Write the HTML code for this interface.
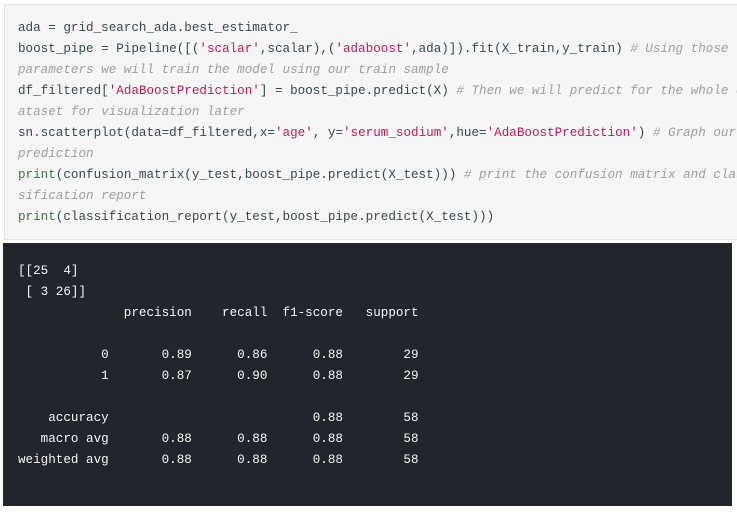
<!DOCTYPE html>
<html><head><style>
html,body{margin:0;padding:0;background:#fff;width:737px;height:519px;overflow:hidden}
.code{position:absolute;left:4px;top:4px;width:740px;height:236px;background:#f5f5f5;border:1px solid #e4e4e4;box-sizing:border-box}
.out{position:absolute;left:3px;top:243px;width:729px;height:263px;background:#22252b}
pre{margin:0;font-family:"Liberation Mono",monospace;font-size:12.6px;line-height:21px;white-space:pre;position:absolute}
.code pre{left:13px;top:13px;color:#37474f}
.out pre{left:15px;top:18px;color:#f5f5f5}
.s{color:#c2185b}.c{color:#9e9e9e;font-style:italic}.p{color:#2e7d32}
</style></head><body>
<div class="code"><pre>ada = grid_search_ada.best_estimator_
boost_pipe = Pipeline([(<span class="s">'scalar'</span>,scalar),(<span class="s">'adaboost'</span>,ada)]).fit(X_train,y_train) <span class="c"># Using those</span>
<span class="c">parameters we will train the model using our train sample</span>
df_filtered[<span class="s">'AdaBoostPrediction'</span>] = boost_pipe.predict(X) <span class="c"># Then we will predict for the whole d</span>
<span class="c">ataset for visualization later</span>
sn.scatterplot(data=df_filtered,x=<span class="s">'age'</span>, y=<span class="s">'serum_sodium'</span>,hue=<span class="s">'AdaBoostPrediction'</span>) <span class="c"># Graph our</span>
<span class="c">prediction</span>
<span class="p">print</span>(confusion_matrix(y_test,boost_pipe.predict(X_test))) <span class="c"># print the confusion matrix and clas</span>
<span class="c">sification report</span>
<span class="p">print</span>(classification_report(y_test,boost_pipe.predict(X_test)))</pre></div>
<div class="out"><pre>[[25  4]
 [ 3 26]]
              precision    recall  f1-score   support

           0       0.89      0.86      0.88        29
           1       0.87      0.90      0.88        29

    accuracy                           0.88        58
   macro avg       0.88      0.88      0.88        58
weighted avg       0.88      0.88      0.88        58</pre></div>
</body></html>
